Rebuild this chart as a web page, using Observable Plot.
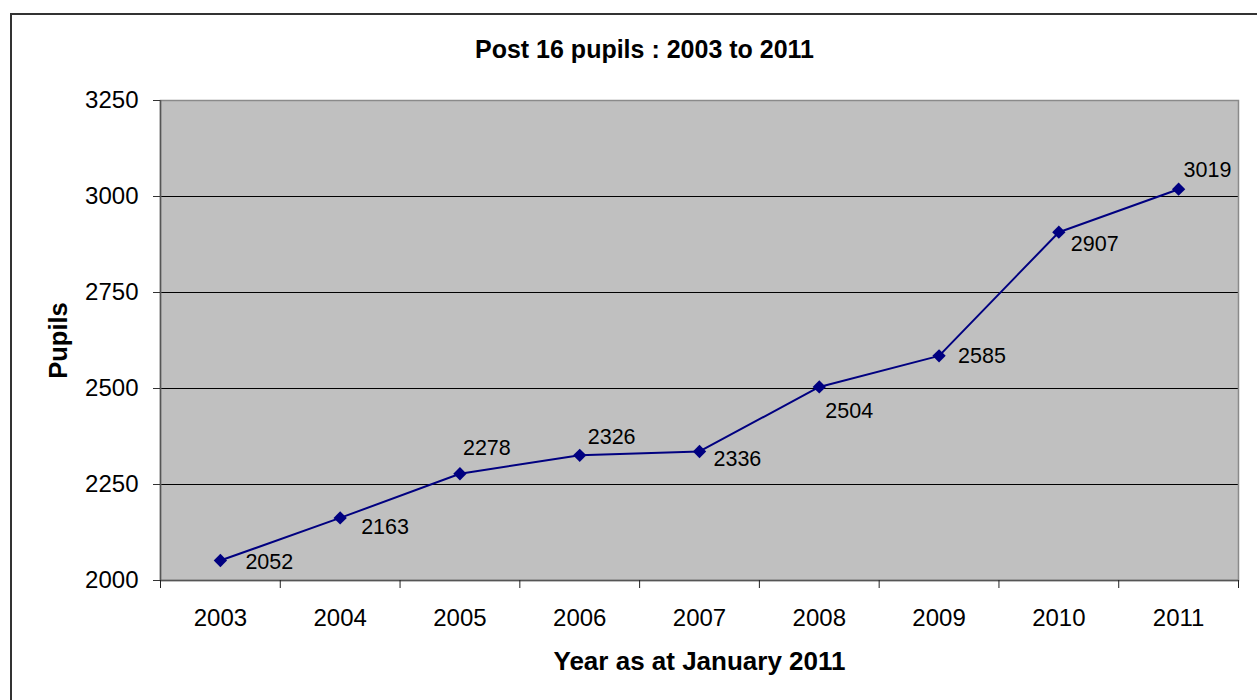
<!DOCTYPE html>
<html>
<head>
<meta charset="utf-8">
<script src="https://cdn.jsdelivr.net/npm/d3@7"></script>
<script src="https://cdn.jsdelivr.net/npm/@observablehq/plot@0.6"></script>
<style>
  html, body { margin: 0; padding: 0; background: #fff; }
  #chart svg { display: block; }
</style>
</head>
<body>
<div id="chart"></div>
<script>
// Post 16 pupils by year (January census)
const years = [2003, 2004, 2005, 2006, 2007, 2008, 2009, 2010, 2011];
const pupils = [2052, 2163, 2278, 2326, 2336, 2504, 2585, 2907, 3019];
const yTicks = [2000, 2250, 2500, 2750, 3000, 3250];
const gridValues = [2250, 2500, 2750, 3000];

// Nudges (px) for each value label so it sits clear of the line
const labelDx = [25, 21, 3, 8, 14, 6, 19, 12, 5];
const labelDy = [2, 9, -26, -18, 8, 24, 0, 12, -19];

const titleText = "Post 16 pupils : 2003 to 2011";
const yTitle = "Pupils";
const xTitle = "Year as at January 2011";

const rows = years.map((year, i) => ({ year, pupils: pupils[i] }));
// category boundaries, where the x-axis tick marks sit
const boundaries = d3.range(years.length + 1).map(i => years[0] - 0.5 + i);

const font = "'Liberation Sans', Arial, Helvetica, sans-serif";

const valueLabels = rows.map((d, i) =>
  Plot.text([d], {
    x: "year", y: "pupils", text: r => String(r.pupils),
    textAnchor: "start", dx: labelDx[i], dy: labelDy[i],
    fontSize: 21.5, fill: "#000"
  })
);

const chart = Plot.plot({
  width: 1257,
  height: 700,
  marginLeft: 160,
  marginRight: 19,
  marginTop: 100,
  marginBottom: 120,
  style: { fontFamily: font, fontSize: "24px", color: "#000", background: "#fff" },
  x: { domain: [boundaries[0], boundaries[boundaries.length - 1]], label: null },
  y: { domain: [yTicks[0], yTicks[yTicks.length - 1]], label: null },
  marks: [
    Plot.frame({ fill: "#c0c0c0", stroke: null }),
    Plot.gridY(gridValues, { stroke: "#000", strokeOpacity: 1, strokeWidth: 1 }),
    Plot.frame({ stroke: "#8a8a8a", strokeWidth: 1.5, fill: null }),
    Plot.ruleY([yTicks[0]], { stroke: "#555", strokeWidth: 1.5 }),
    Plot.ruleX([boundaries[0]], { stroke: "#555", strokeWidth: 1.5 }),
    Plot.axisY(yTicks, {
      tickSize: 7, tickPadding: 15, fontSize: 24, stroke: "#333", fill: "#000",
      tickFormat: d => String(d), label: null
    }),
    Plot.axisX(boundaries, {
      tickSize: 8, tickFormat: () => "", stroke: "#222", label: null
    }),
    Plot.axisX(years, {
      tickSize: 0, tickPadding: 28, fontSize: 24, fill: "#000",
      tickFormat: d => String(d), label: null
    }),
    Plot.line(rows, { x: "year", y: "pupils", stroke: "#000080", strokeWidth: 2 }),
    Plot.dot(rows, { x: "year", y: "pupils", symbol: "diamond2", r: 6, fill: "#000080", stroke: "none" }),
    ...valueLabels,
    Plot.text([titleText], {
      text: d => d, frameAnchor: "top", dx: -55, dy: -60,
      fontWeight: "bold", fontSize: 25, fill: "#000"
    }),
    Plot.text([yTitle], {
      text: d => d, frameAnchor: "left", textAnchor: "middle", lineAnchor: "middle",
      rotate: -90, dx: -102,
      fontWeight: "bold", fontSize: 25.5, fill: "#000"
    }),
    Plot.text([xTitle], {
      text: d => d, frameAnchor: "bottom", dy: 89,
      fontWeight: "bold", fontSize: 26, fill: "#000"
    })
  ]
});

// outer chart-area border, running off the right and bottom edges
d3.select(chart).insert("rect", ":first-child")
  .attr("x", 11).attr("y", 14)
  .attr("width", 1300).attr("height", 750)
  .attr("fill", "none").attr("stroke", "#333").attr("stroke-width", 2);

document.getElementById("chart").appendChild(chart);
</script>
</body>
</html>
